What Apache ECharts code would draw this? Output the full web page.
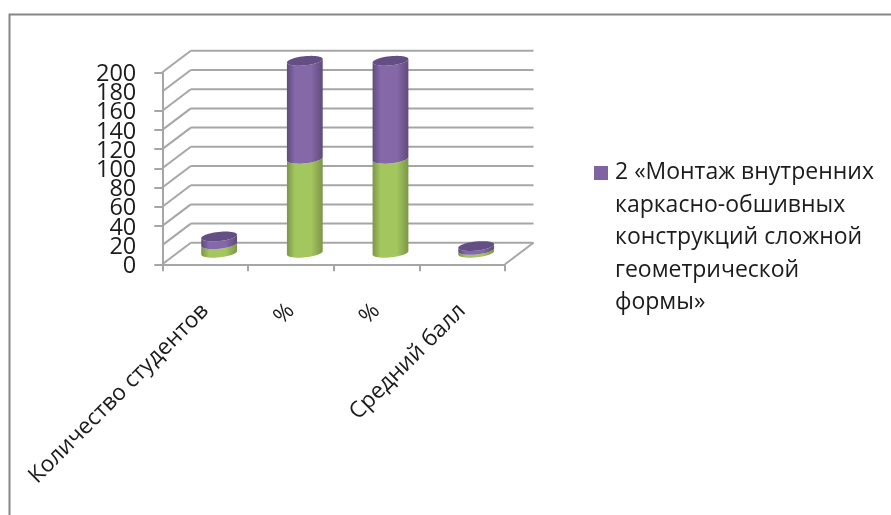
<!DOCTYPE html>
<html>
<head>
<meta charset="utf-8">
<style>html,body{margin:0;padding:0;background:#fff}#c{width:891px;height:515px;filter:blur(0.45px)}</style>
<script src="https://cdn.jsdelivr.net/npm/echarts@6/dist/echarts.min.js"></script>
</head>
<body>
<div id="c"></div>
<script>
const categories = ['Количество студентов', '%', '%', 'Средний балл'];
const greenValues = [9, 98, 98, 3];
const purpleValues = [8, 102, 102, 4];
const yTicks = [0, 20, 40, 60, 80, 100, 120, 140, 160, 180, 200];
const seriesName = '2 «Монтаж внутренних каркасно-обшивных конструкций сложной геометрической формы»';
const legendLines = ['2 «Монтаж внутренних', 'каркасно-обшивных', 'конструкций сложной', 'геометрической', 'формы»'];

const DEPTH_X = 28.5, DEPTH_Y = -21.5;
const BAR_DX = 14, BAR_DY = -11.5, RX = 18, RY = 4.6, TILT = -6 * Math.PI / 180;
const GRID_COLOR = '#a6a6a6';
const TEXT_COLOR = '#1c1c1c';
const FONT = '"Open Sans", sans-serif';

function ell(cx, cy, t) {
  return [
    cx + RX * Math.cos(t) * Math.cos(TILT) - RY * Math.sin(t) * Math.sin(TILT),
    cy + RX * Math.cos(t) * Math.sin(TILT) + RY * Math.sin(t) * Math.cos(TILT)
  ];
}
function arc(cx, cy, from, to, n) {
  const p = [];
  for (let k = 0; k <= n; k++) p.push(ell(cx, cy, from + (to - from) * k / n));
  return p;
}
function grad(edge, mid) {
  return new echarts.graphic.LinearGradient(0, 0, 1, 0, [
    { offset: 0, color: edge }, { offset: 0.22, color: mid },
    { offset: 0.68, color: mid }, { offset: 1, color: edge }
  ]);
}
function cylinder(colors, cap) {
  return function (params, api) {
    const i = api.value(0);
    const lo = api.coord([i, api.value(1)]);
    const hi = api.coord([i, api.value(2)]);
    const cx = lo[0] + BAR_DX, yb = lo[1] + BAR_DY, yt = hi[1] + BAR_DY;
    const side = arc(cx, yb, 0, Math.PI, 24).concat(arc(cx, yt, Math.PI, 0, 24));
    const children = [{
      type: 'polygon', shape: { points: side },
      style: { fill: grad(colors[0], colors[1]) }
    }];
    if (cap) children.push({
      type: 'polygon', shape: { points: arc(cx, yt, 0, 2 * Math.PI, 48) },
      style: { fill: cap }
    });
    return { type: 'group', children };
  };
}
function gridLines(params, api) {
  const v = api.value(1);
  const cs = params.coordSys;
  const y = api.coord([0, v])[1];
  const xl = cs.x, xr = cs.x + cs.width;
  const line = (x1, y1, x2, y2) => ({
    type: 'line', shape: { x1, y1, x2, y2 },
    style: { stroke: GRID_COLOR, lineWidth: 2 }
  });
  const children = [
    line(xl, y, xl + DEPTH_X, y + DEPTH_Y),
    line(xl + DEPTH_X, y + DEPTH_Y, xr + DEPTH_X, y + DEPTH_Y)
  ];
  if (v === yTicks[0]) children.push(line(xr, y, xr + DEPTH_X, y + DEPTH_Y));
  return { type: 'group', children };
}

const yLabelStyle = {
  margin: 26,
  formatter: (v) => '{v|' + v + '}',
  rich: { v: { color: TEXT_COLOR, fontSize: 23.5, lineHeight: 13, padding: [4, 0, 0, 0], fontFamily: FONT } }
};

const chart = echarts.init(document.getElementById('c'));
chart.setOption({
  animation: false,
  backgroundColor: '#fff',
  graphic: [{
    type: 'polyline', z: 0, silent: true,
    shape: { points: [[9.5, 515], [9.5, 14.5], [891, 14.5]] },
    style: { stroke: '#868686', lineWidth: 2, fill: 'none' }
  }],
  grid: { left: 162.3, top: 72.3, width: 342.7, height: 192 },
  xAxis: {
    type: 'category', data: categories,
    axisLine: { show: true, lineStyle: { color: GRID_COLOR, width: 2 } },
    axisTick: { show: true, alignWithLabel: false, length: 7, lineStyle: { color: GRID_COLOR, width: 2 } },
    axisLabel: {
      rotate: 45, interval: 0, margin: 43, color: TEXT_COLOR, fontSize: 22.5,
      fontFamily: FONT
    }
  },
  yAxis: [
    {
      type: 'value', min: 0, max: 200, interval: 20, position: 'left',
      axisLine: { show: true, lineStyle: { color: GRID_COLOR, width: 2 } },
      axisTick: { show: true, length: 8, lineStyle: { color: GRID_COLOR, width: 2 } },
      splitLine: { show: false },
      axisLabel: Object.assign({ showMinLabel: true, showMaxLabel: true }, yLabelStyle)
    },
    {
      // carries the two tick labels that the first axis drops next to its end labels
      type: 'value', min: 0, max: 200, position: 'left',
      axisLine: { show: false }, axisTick: { show: false }, splitLine: { show: false },
      axisLabel: Object.assign({ customValues: [yTicks[1], yTicks[yTicks.length - 2]] }, yLabelStyle)
    }
  ],
  legend: {
    left: 594, top: 156.5, orient: 'vertical', selectedMode: false, padding: 0,
    icon: 'path://M0 0H16V0H0ZM0 9.5H14V23.5H0ZM0 162.5H16V162.5H0Z',
    itemWidth: 16, itemHeight: 162.5, itemGap: 0,
    data: [{ name: seriesName, itemStyle: { color: '#8064A2' } }],
    formatter: () => legendLines.join('\n'),
    textStyle: {
      color: TEXT_COLOR, fontSize: 23, lineHeight: 32.5,
      fontFamily: FONT
    }
  },
  series: [
    {
      type: 'custom', name: 'Сетка', z: 1, silent: true,
      renderItem: gridLines,
      encode: { x: 0, y: 1 },
      data: yTicks.map((v) => [0, v])
    },
    {
      type: 'custom', name: 'Зелёный', z: 2, silent: true,
      renderItem: cylinder(['#7c9648', '#a3c65e'], null),
      encode: { x: 0, y: [1, 2] },
      data: categories.map((c, i) => [i, 0, greenValues[i]])
    },
    {
      type: 'custom', name: seriesName, z: 3, silent: true,
      itemStyle: { color: '#8064A2' },
      renderItem: cylinder(['#5f4b7b', '#8568a8'], '#644f85'),
      encode: { x: 0, y: [1, 2] },
      data: categories.map((c, i) => [i, greenValues[i], greenValues[i] + purpleValues[i]])
    }
  ]
});
</script>
</body>
</html>
